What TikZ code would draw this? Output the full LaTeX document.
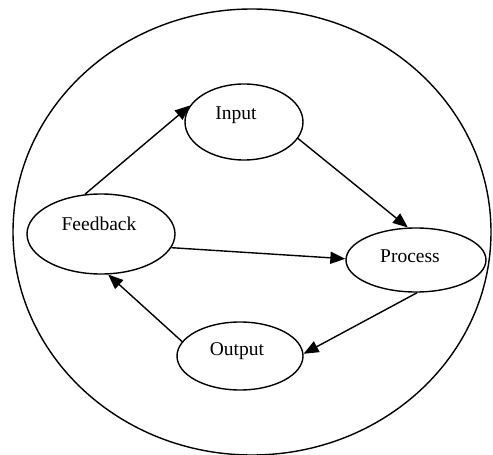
\documentclass[tikz,border=0pt]{standalone}
\usepackage{fontspec}
\setmainfont{Liberation Serif}
\usetikzlibrary{shapes.geometric,arrows.meta}
\begin{document}
\begin{tikzpicture}[x=1pt,y=-1pt,
  stage/.style={ellipse,draw,line width=1.4pt,inner sep=0pt},
  caption/.style={anchor=base,inner sep=0pt,font=\fontsize{19.5}{22}\selectfont},
  flow/.style={line width=1.4pt,-{Triangle[length=15pt,width=12pt]}}]
\useasboundingbox (0,0) rectangle (493,455);
% outer boundary of the system
\draw[line width=1.4pt] (252,232) ellipse [x radius=239pt, y radius=223pt];
% stages
\node[stage,minimum width=118pt,minimum height=76pt] (inp) at (244,122) {};
\node[stage,minimum width=148pt,minimum height=80pt] (fb) at (101,234) {};
\node[stage,minimum width=140pt,minimum height=64pt] (proc) at (416,260) {};
\node[stage,minimum width=126pt,minimum height=68pt] (out) at (240,356) {};
% stage names
\node[caption] (inpt) at (236,119) {Input};
\node[caption] (fbt) at (99,230) {Feedback};
\node[caption] (proct) at (410,262) {Process};
\node[caption] (outt) at (237,355) {Output};
% connectors
\draw[flow] (fb.112) -- (inp.163);
\draw[flow] (inp.343) -- (proc.104);
\draw[flow] (fb.349) -- (proc.179);
\draw[flow] (proc.272) -- (out.2);
\draw[flow] (out.166) -- (fb.280);
\end{tikzpicture}
\end{document}
